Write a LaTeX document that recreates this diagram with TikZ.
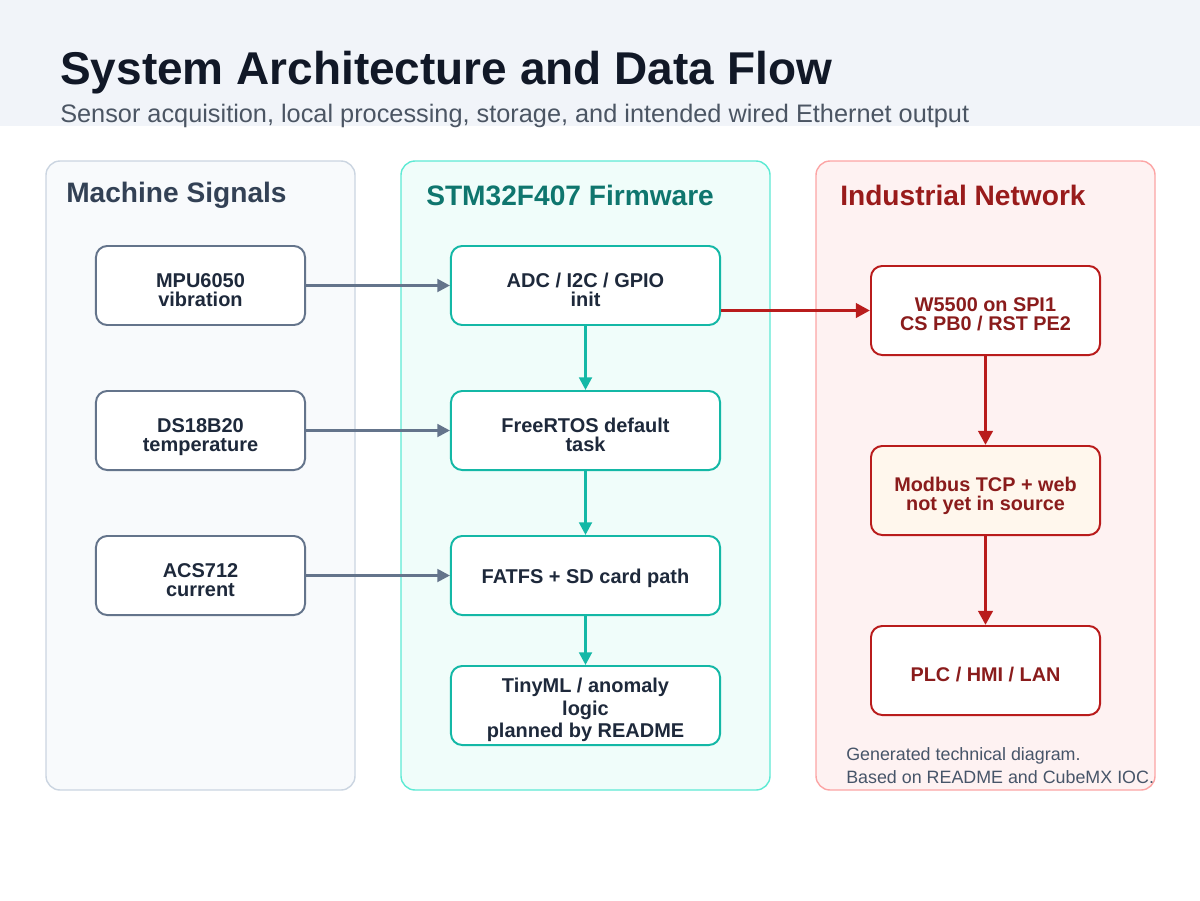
\documentclass[tikz,border=0pt]{standalone}
\usepackage{xcolor}
\usepackage{fontspec}
\setmainfont{Liberation Sans}
\usepackage{tikz}
\usetikzlibrary{arrows.meta, calc}
\definecolor{myink}{RGB}{17,24,39}
\definecolor{mydark}{RGB}{30,41,59}
\definecolor{mygray}{RGB}{75,85,99}
\definecolor{mynote}{RGB}{71,85,105}
\definecolor{myslate}{RGB}{100,116,139}
\definecolor{slatetitle}{RGB}{51,65,85}
\definecolor{slateframe}{RGB}{203,213,225}
\definecolor{slatebg}{RGB}{248,250,252}
\definecolor{myteal}{RGB}{20,184,166}
\definecolor{tealtitle}{RGB}{15,118,110}
\definecolor{tealframe}{RGB}{94,234,212}
\definecolor{tealbg}{RGB}{240,253,250}
\definecolor{myred}{RGB}{185,28,28}
\definecolor{redtitle}{RGB}{153,27,27}
\definecolor{redtext}{RGB}{138,28,28}
\definecolor{redframe}{RGB}{252,165,165}
\definecolor{redbg}{RGB}{254,242,242}
\definecolor{hdramber}{RGB}{255,247,237}
\definecolor{hdrgray}{RGB}{241,244,249}
\tikzset{
  sensor/.style={rectangle, draw=myslate, fill=white,
    minimum width=5.225cm, minimum height=1.975cm, align=center,
    font=\fontsize{14.2}{13.4}\selectfont\bfseries, text=mydark,
    text height=30pt, text depth=0pt,
    rounded corners=8pt, line width=1.4pt},
  fwblock/.style={rectangle, draw=myteal, fill=white,
    minimum width=6.725cm, minimum height=1.975cm, align=center,
    font=\fontsize{14.2}{13.4}\selectfont\bfseries, text=mydark,
    text height=30pt, text depth=0pt,
    rounded corners=8pt, line width=1.4pt},
  netblock/.style={rectangle, draw=myred, fill=white,
    minimum width=5.725cm, minimum height=2.225cm, align=center,
    font=\fontsize{14.1}{13.4}\selectfont\bfseries, text=redtext,
    text height=28pt, text depth=0pt,
    rounded corners=8pt, line width=1.4pt},
  panel/.style={rounded corners=10pt, line width=1pt},
  paneltitle/.style={anchor=west, inner sep=0pt,
    font=\fontsize{20}{22}\selectfont\bfseries},
  arrow/.style={-{Triangle[length=9pt, width=9pt]}, line width=2pt, color=myslate},
  tealarrow/.style={-{Triangle[length=9pt, width=9pt]}, line width=2pt, color=myteal},
  redarrow/.style={-{Triangle[length=10pt, width=10pt]}, line width=2.6pt, color=myred}
}

\begin{document}
\begin{tikzpicture}[x=0.025cm, y=-0.025cm]
  \useasboundingbox (0,0) rectangle (1200,900);
  \fill[white] (0,0) rectangle (1200,900);
  % Header band
  \fill[hdrgray] (0,0) rectangle (1200,126);
  \node[anchor=base west, inner sep=0pt, text=myink,
    font=\fontsize{32.7}{36}\selectfont\bfseries] (title) at (60,85)
    {System Architecture and Data Flow};
  \node[anchor=base west, inner sep=0pt, text=mygray,
    font=\fontsize{18}{20}\selectfont] (subtitle) at (60,122)
    {Sensor acquisition, local processing, storage, and intended wired Ethernet output};

  % Column panels
  \draw[panel, draw=slateframe, fill=slatebg] (46,161) rectangle (355,790);
  \draw[panel, draw=tealframe, fill=tealbg] (401,161) rectangle (770,790);
  \draw[panel, draw=redframe, fill=redbg] (816,161) rectangle (1155,790);
  \node[paneltitle, text=slatetitle] (sigtitle) at (66,195) {Machine Signals};
  \node[paneltitle, text=tealtitle] (fwtitle) at (426,195) {STM32F407 Firmware};
  \node[paneltitle, text=redtitle] (nettitle) at (840,195) {Industrial Network};

  % Sensors
  \node[sensor] (mpu) at (200.5,285.5) {MPU6050\\vibration};
  \node[sensor] (ds) at (200.5,430.5) {DS18B20\\temperature};
  \node[sensor] (acs) at (200.5,575.5) {ACS712\\current};

  % Firmware stages
  \node[fwblock] (init) at (585.5,285.5) {ADC / I2C / GPIO\\init};
  \node[fwblock] (rtos) at (585.5,430.5) {FreeRTOS default\\task};
  \node[fwblock, text height=12pt] (fatfs) at (585.5,575.5) {FATFS + SD card path};
  \node[fwblock, font=\fontsize{14.2}{16.2}\selectfont\bfseries, text height=46pt] (tinyml)
    at (585.5,705.5) {TinyML / anomaly\\logic\\planned by README};

  % Network side
  \node[netblock] (w5500) at (985.5,310.5) {W5500 on SPI1\\CS PB0 / RST PE2};
  \node[netblock, fill=hdramber] (modbus) at (985.5,490.5) {Modbus TCP + web\\not yet in source};
  \node[netblock, text height=16pt] (plc) at (985.5,670.5) {PLC / HMI / LAN};

  % Data flow
  \foreach \src/\dst in {mpu/init, ds/rtos, acs/fatfs}
    \draw[arrow] (\src.east) -- (\dst.west);
  \foreach \src/\dst in {init/rtos, rtos/fatfs, fatfs/tinyml}
    \draw[tealarrow] (\src.south) -- (\dst.north);
  \draw[redarrow] (init.east |- w5500.west) -- (w5500.west);
  \draw[redarrow] (w5500.south) -- (modbus.north);
  \draw[redarrow] (modbus.south) -- (plc.north);

  % Footnote
  \node[anchor=west, inner sep=0pt, align=left, text=mynote,
    font=\fontsize{12.7}{16.4}\selectfont] (note) at (846,766)
    {Generated technical diagram.\\Based on README and CubeMX IOC.};
\end{tikzpicture}
\end{document}
